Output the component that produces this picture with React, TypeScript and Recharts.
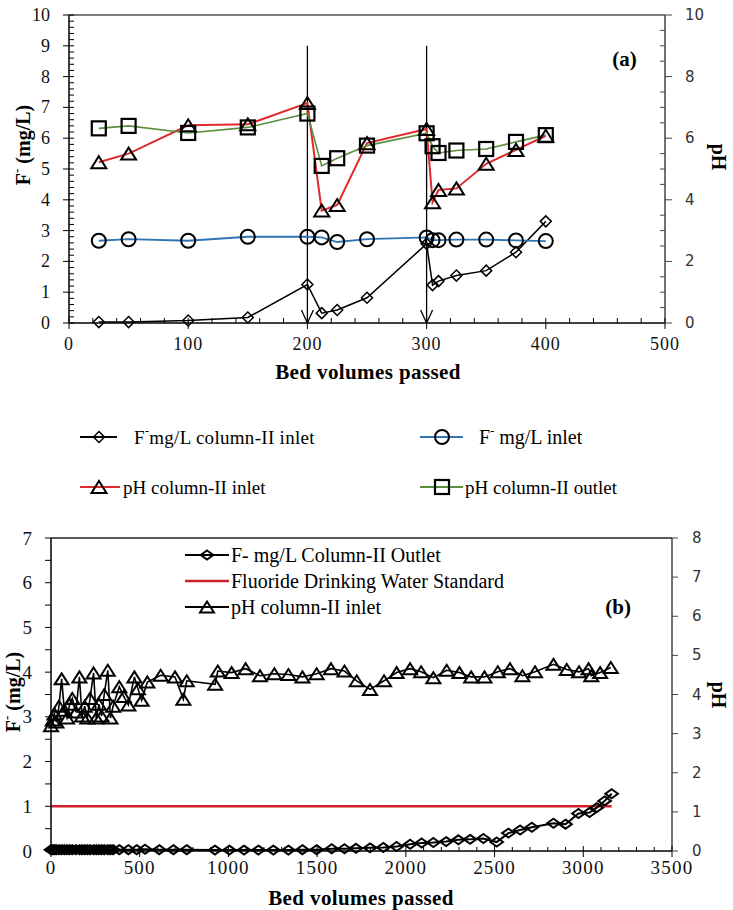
"use client"

import { ComposedChart, Line, XAxis, YAxis, ReferenceLine, ReferenceDot, Legend, Label } from "recharts"

const SERIF = "'Liberation Serif', 'Times New Roman', serif"
const SANS = "'DejaVu Sans', Verdana, sans-serif"

// ---------- panel (a): regeneration runs ----------
const bvA = [25, 50, 100, 150, 200, 212, 225, 250, 300, 305, 310, 325, 350, 375, 400]
const fColumnInletA = [0.03, 0.03, 0.08, 0.18, 1.25, 0.32, 0.42, 0.82, 2.57, 1.23, 1.36, 1.54, 1.7, 2.3, 3.3]
const fInletA = [2.67, 2.72, 2.67, 2.8, 2.8, 2.78, 2.63, 2.72, 2.78, 2.69, 2.69, 2.71, 2.71, 2.68, 2.66]
const phColumnInletA = [5.22, 5.5, 6.42, 6.45, 7.14, 3.65, 3.83, 5.84, 6.3, 3.92, 4.32, 4.37, 5.17, 5.62, 6.08]
const phColumnOutletA = [6.32, 6.4, 6.17, 6.35, 6.8, 5.1, 5.35, 5.76, 6.16, 5.74, 5.52, 5.6, 5.65, 5.88, 6.1]
const regenerationBV = [200, 300]

const xLabelsA = [0, 100, 200, 300, 400, 500]
const leftLabelsA = [0, 1, 2, 3, 4, 5, 6, 7, 8, 9, 10]
const rightLabelsA = [0, 2, 4, 6, 8, 10]

// ---------- panel (b): long run ----------
const outletBV = [0, 10, 20, 30, 45, 60, 75, 90, 105, 120, 140, 160, 175, 190, 205, 220, 240, 255, 270, 285, 300, 320, 335, 350, 385, 436, 483, 530, 610, 690, 765,
  924, 1005, 1088, 1169, 1253, 1338, 1417, 1497, 1582, 1654, 1719, 1798, 1873, 1948, 2024, 2089, 2155, 2227, 2296, 2362, 2437, 2512, 2578, 2644, 2710, 2832, 2900, 2973, 3035, 3076, 3120, 3160]
const outletF = [0.03, 0.03, 0.03, 0.03, 0.03, 0.03, 0.03, 0.03, 0.03, 0.03, 0.03, 0.03, 0.03, 0.03, 0.03, 0.03, 0.03, 0.03, 0.03, 0.03, 0.03, 0.03, 0.03, 0.03, 0.03, 0.03, 0.03, 0.04, 0.03, 0.03, 0.03,
  0.02, 0.02, 0.02, 0.02, 0.02, 0.02, 0.03, 0.03, 0.05, 0.05, 0.06, 0.07, 0.08, 0.1, 0.15, 0.18, 0.19, 0.21, 0.25, 0.26, 0.28, 0.2, 0.4, 0.47, 0.53, 0.62, 0.6, 0.84, 0.86, 0.97, 1.12, 1.28]

const inletBV = [0, 10, 20, 30, 45, 60, 75, 90, 105, 120, 140, 160, 175, 190, 205, 220, 240, 255, 270, 285, 300, 320, 335, 350, 385, 410, 436, 470, 490, 511, 543, 618, 699, 746, 765,
  925, 940, 1018, 1097, 1178, 1259, 1338, 1417, 1497, 1578, 1654, 1723, 1798, 1877, 1948, 2024, 2086, 2155, 2230, 2302, 2368, 2443, 2518, 2587, 2657, 2728, 2832, 2907, 2976, 3030, 3045, 3095, 3155]
const inletPH = [3.2, 3.35, 3.5, 3.3, 3.7, 4.4, 3.6, 3.4, 3.75, 3.9, 3.55, 4.45, 3.45, 3.7, 3.4, 3.9, 4.55, 3.4, 3.75, 3.45, 4.0, 4.62, 3.4, 3.7, 4.2, 3.95, 3.73, 4.45, 4.15, 3.85, 4.32, 4.49, 4.45, 3.88, 4.35,
  4.26, 4.6, 4.56, 4.66, 4.48, 4.53, 4.51, 4.45, 4.53, 4.66, 4.6, 4.35, 4.13, 4.35, 4.56, 4.66, 4.58, 4.43, 4.62, 4.56, 4.45, 4.45, 4.58, 4.66, 4.48, 4.58, 4.77, 4.64, 4.58, 4.66, 4.48, 4.56, 4.69]

const standardBV = [0, 3160]
const standardF = [1, 1]

const xLabelsB = [0, 500, 1000, 1500, 2000, 2500, 3000, 3500]
const leftLabelsB = [0, 1, 2, 3, 4, 5, 6, 7]
const rightLabelsB = [0, 1, 2, 3, 4, 5, 6, 7, 8]

const dataA = bvA.map((bv, i) => ({
  bv,
  fColumnInlet: fColumnInletA[i],
  fInlet: fInletA[i],
  phColumnInlet: phColumnInletA[i],
  phColumnOutlet: phColumnOutletA[i],
}))
const outletData = outletBV.map((bv, i) => ({ bv, f: outletF[i] }))
const inletData = inletBV.map((bv, i) => ({ bv, ph: inletPH[i] }))
const standardData = standardBV.map((bv, i) => ({ bv, f: standardF[i] }))

// tick positions (major + minor)
const steps = (max: number, step: number) =>
  Array.from({ length: Math.round(max / step) + 1 }, (_, i) => Math.round(i * step * 1000) / 1000)

// ---------- markers ----------
type DotProps = { cx?: number; cy?: number; index?: number }

const diamond = (rx: number, ry: number, w: number) => (p: DotProps) => {
  const { cx = 0, cy = 0 } = p
  return <path key={`d${p.index}`} d={`M${cx},${cy - ry}L${cx + rx},${cy}L${cx},${cy + ry}L${cx - rx},${cy}Z`} fill="none" stroke="#000" strokeWidth={w} />
}
const circle = (r: number, w: number) => (p: DotProps) => (
  <circle key={`c${p.index}`} cx={p.cx} cy={p.cy} r={r} fill="none" stroke="#000" strokeWidth={w} />
)
const triangle = (tw: number, th: number, w: number) => (p: DotProps) => {
  const { cx = 0, cy = 0 } = p
  return <polygon key={`t${p.index}`} points={`${cx},${cy - th / 2} ${cx + tw / 2},${cy + th / 2} ${cx - tw / 2},${cy + th / 2}`} fill="none" stroke="#000" strokeWidth={w} />
}
const square = (s: number, w: number) => (p: DotProps) => (
  <rect key={`s${p.index}`} x={(p.cx ?? 0) - s / 2} y={(p.cy ?? 0) - s / 2} width={s} height={s} fill="none" stroke="#000" strokeWidth={w} />
)

const diamondA = diamond(5.5, 5.5, 1.5)
const circleA = circle(7, 2)
const triangleA = triangle(15, 12, 2)
const squareA = square(14, 2.2)
const diamondB = diamond(6.3, 4.5, 2)
const triangleB = triangle(14, 11, 2)

// ---------- axis ticks ----------
type TickStyle = {
  side: "left" | "right" | "bottom"
  labels: number[]
  major: [number, number] // [inside, outside]
  minor: [number, number]
  gap: number
  font: string
  size: number
  spacing?: number
  color: string
  stroke: string
}

const makeTick = (t: TickStyle) => (p: any) => {
  const { x, y, payload, index } = p
  const v = payload.value as number
  const isMajor = t.labels.includes(v)
  const [inn, out] = isMajor ? t.major : t.minor
  const textProps = { fontFamily: t.font, fontSize: t.size, fill: t.color, letterSpacing: t.spacing ?? 0 }
  if (t.side === "bottom") {
    return (
      <g key={`k${index}`}>
        <line x1={x} x2={x} y1={y - inn} y2={y + out} stroke={t.stroke} strokeWidth={1} />
        {isMajor && (
          <text x={x} y={y + t.gap} textAnchor="middle" dominantBaseline="central" {...textProps}>
            {v}
          </text>
        )}
      </g>
    )
  }
  const dir = t.side === "left" ? -1 : 1
  return (
    <g key={`k${index}`}>
      <line x1={x - dir * inn} x2={x + dir * out} y1={y} y2={y} stroke={t.stroke} strokeWidth={1} />
      {isMajor && (
        <text x={x + dir * t.gap} y={y} textAnchor={t.side === "left" ? "end" : "start"} dominantBaseline="central" {...textProps}>
          {v}
        </text>
      )}
    </g>
  )
}

const tickLeftA = makeTick({ side: "left", labels: leftLabelsA, major: [5, 6], minor: [5, 0], gap: 19, font: SERIF, size: 18, color: "#111", stroke: "#000" })
const tickRightA = makeTick({ side: "right", labels: rightLabelsA, major: [0, 7], minor: [5, 0], gap: 20, font: SANS, size: 15, color: "#333", stroke: "#444" })
const tickBottomA = makeTick({ side: "bottom", labels: xLabelsA, major: [5, 6], minor: [5, 0], gap: 21, font: SERIF, size: 18, spacing: 1, color: "#111", stroke: "#000" })
const tickLeftB = makeTick({ side: "left", labels: leftLabelsB, major: [0, 6], minor: [0, 6], gap: 19, font: SERIF, size: 19, color: "#111", stroke: "#000" })
const tickRightB = makeTick({ side: "right", labels: rightLabelsB, major: [0, 6], minor: [0, 6], gap: 20, font: SANS, size: 15, color: "#333", stroke: "#444" })
const tickBottomB = makeTick({ side: "bottom", labels: xLabelsB, major: [5, 6], minor: [4, 0], gap: 16, font: SERIF, size: 19, spacing: 1.2, color: "#111", stroke: "#000" })

// vertical regeneration marker with an open arrow head
const ArrowLine = (p: any) => {
  const { x1, y1, x2, y2 } = p
  return (
    <g>
      <line x1={x1} y1={y1} x2={x2} y2={y2} stroke="#000" strokeWidth={1.3} />
      <polyline points={`${x2 - 6},${y2 - 13} ${x2},${y2} ${x2 + 6},${y2 - 13}`} fill="none" stroke="#000" strokeWidth={1.3} />
    </g>
  )
}

// ---------- titles ----------
const boldText = { fontFamily: SERIF, fontWeight: 700, fill: "#000" } as const

const fTitle = (x: number, y: number) => () => (
  <text transform={`translate(${x},${y}) rotate(-90)`} textAnchor="middle" dominantBaseline="central" fontSize={20} {...boldText}>
    F<tspan dy={-7} fontSize={13}>-</tspan>
    <tspan dy={7}> (mg/L)</tspan>
  </text>
)
const phTitle = (x: number, y: number) => () => (
  <text transform={`translate(${x},${y}) rotate(90)`} textAnchor="middle" dominantBaseline="central" fontSize={20} {...boldText}>
    pH
  </text>
)
const bvTitle = (x: number, y: number) => () => (
  <text x={x} y={y} textAnchor="middle" dominantBaseline="central" fontSize={21} letterSpacing={0.4} {...boldText}>
    Bed volumes passed
  </text>
)

// ---------- legends ----------
const legendText = { fontFamily: SERIF, fontSize: 19, fill: "#000" }

const LegendA = () => (
  <svg width={733} height={100} style={{ display: "block" }}>
    <g>
      <line x1={80} x2={117} y1={27} y2={27} stroke="#000" strokeWidth={1.8} />
      {diamondA({ cx: 99, cy: 27, index: 0 })}
      <text x={134} y={27} dominantBaseline="central" {...legendText} letterSpacing={0.3}>
        F<tspan dy={-6} fontSize={12}>-</tspan>
        <tspan dy={6}>mg/L column-II inlet</tspan>
      </text>
    </g>
    <g>
      <line x1={420} x2={463} y1={27} y2={27} stroke="#2e75b6" strokeWidth={2} />
      {circleA({ cx: 442, cy: 27, index: 1 })}
      <text x={479} y={27} dominantBaseline="central" {...legendText} fontSize={20}>
        F<tspan dy={-6} fontSize={12}>-</tspan>
        <tspan dy={6}> mg/L inlet</tspan>
      </text>
    </g>
    <g>
      <line x1={80} x2={120} y1={77} y2={77} stroke="#e02a2a" strokeWidth={2} />
      {triangleA({ cx: 99, cy: 77, index: 2 })}
      <text x={123} y={77} dominantBaseline="central" {...legendText}>
        pH column-II inlet
      </text>
    </g>
    <g>
      <line x1={420} x2={463} y1={77} y2={77} stroke="#5a8f3c" strokeWidth={2} />
      {squareA({ cx: 442, cy: 77, index: 3 })}
      <text x={465} y={77} dominantBaseline="central" {...legendText}>
        pH column-II outlet
      </text>
    </g>
  </svg>
)

const legendTextB = { ...legendText, fontSize: 20 }

const LegendB = () => (
  <svg width={733} height={100} style={{ display: "block" }}>
    <line x1={185} x2={229} y1={15} y2={15} stroke="#000" strokeWidth={2} />
    {diamondB({ cx: 207, cy: 15, index: 0 })}
    <text x={231} y={15} dominantBaseline="central" {...legendTextB}>
      F- mg/L Column-II Outlet
    </text>
    <line x1={185} x2={229} y1={41} y2={41} stroke="#d0202a" strokeWidth={2.5} />
    <text x={231} y={41} dominantBaseline="central" {...legendTextB}>
      Fluoride Drinking Water Standard
    </text>
    <line x1={185} x2={229} y1={67} y2={67} stroke="#000" strokeWidth={2} />
    {triangleB({ cx: 207, cy: 67, index: 1 })}
    <text x={231} y={67} dominantBaseline="central" {...legendTextB}>
      pH column-II inlet
    </text>
  </svg>
)

function PanelA() {
  return (
    <ComposedChart width={733} height={520} data={dataA} margin={{ top: 15, right: 0, bottom: 167, left: 0 }}>
      <XAxis dataKey="bv" type="number" domain={[0, 500]} ticks={steps(500, 20)} interval={0} tickSize={0} tickMargin={0} tickLine={false} tick={tickBottomA} axisLine={{ stroke: "#000", strokeWidth: 1.5 }} height={30}>
        <Label content={bvTitle(368, 372)} />
      </XAxis>
      <YAxis yAxisId="left" orientation="left" type="number" domain={[0, 10]} ticks={steps(10, 0.2)} interval={0} width={69} tickSize={0} tickMargin={0} tickLine={false} tick={tickLeftA} axisLine={{ stroke: "#000", strokeWidth: 1.5 }}>
        <Label content={fTitle(23, 145)} />
      </YAxis>
      <YAxis yAxisId="right" orientation="right" type="number" domain={[0, 10]} ticks={steps(10, 0.5)} interval={0} width={68} tickSize={0} tickMargin={0} tickLine={false} tick={tickRightA} axisLine={{ stroke: "#444", strokeWidth: 1.5 }}>
        <Label content={phTitle(719, 157)} />
      </YAxis>
      <ReferenceLine yAxisId="left" y={10} stroke="#555" strokeWidth={1.3} />
      {regenerationBV.map((bv) => (
        <ReferenceLine key={bv} yAxisId="left" segment={[{ x: bv, y: 9 }, { x: bv, y: 0 }]} shape={ArrowLine} />
      ))}
      <Line yAxisId="left" dataKey="fColumnInlet" name="F- mg/L column-II inlet" type="linear" stroke="#000" strokeWidth={1.5} dot={diamondA} activeDot={false} isAnimationActive={false} />
      <Line yAxisId="left" dataKey="fInlet" name="F- mg/L inlet" type="linear" stroke="#2e75b6" strokeWidth={1.8} dot={circleA} activeDot={false} isAnimationActive={false} />
      <Line yAxisId="right" dataKey="phColumnInlet" name="pH column-II inlet" type="linear" stroke="#e02a2a" strokeWidth={2} dot={triangleA} activeDot={false} isAnimationActive={false} />
      <Line yAxisId="right" dataKey="phColumnOutlet" name="pH column-II outlet" type="linear" stroke="#5a8f3c" strokeWidth={1.6} dot={squareA} activeDot={false} isAnimationActive={false} />
      <ReferenceDot yAxisId="left" x={466} y={8.6} r={0} fill="none" stroke="none" label={{ value: "(a)", position: "center", fontFamily: SERIF, fontWeight: 700, fontSize: 21, fill: "#000" }} />
      <Legend layout="horizontal" verticalAlign="middle" align="center" wrapperStyle={{ top: 410, left: 0, width: 733, height: 100 }} content={() => <LegendA />} />
    </ComposedChart>
  )
}

function PanelB() {
  return (
    <ComposedChart width={733} height={390} margin={{ top: 18, right: 0, bottom: 29, left: 0 }}>
      <XAxis dataKey="bv" type="number" domain={[0, 3500]} ticks={steps(3500, 100)} interval={0} tickSize={0} tickMargin={0} tickLine={false} tick={tickBottomB} axisLine={{ stroke: "#000", strokeWidth: 1.5 }} height={30}>
        <Label content={bvTitle(361, 378)} />
      </XAxis>
      <YAxis yAxisId="left" orientation="left" type="number" domain={[0, 7]} ticks={steps(7, 0.5)} interval={0} width={51} tickSize={0} tickMargin={0} tickLine={false} tick={tickLeftB} axisLine={{ stroke: "#000", strokeWidth: 1.5 }}>
        <Label content={fTitle(13, 172)} />
      </YAxis>
      <YAxis yAxisId="right" orientation="right" type="number" domain={[0, 8]} ticks={steps(8, 1)} interval={0} width={61} tickSize={0} tickMargin={0} tickLine={false} tick={tickRightB} axisLine={{ stroke: "#444", strokeWidth: 1.5 }}>
        <Label content={phTitle(719, 175)} />
      </YAxis>
      <ReferenceLine yAxisId="left" y={7} stroke="#222" strokeWidth={1.5} />
      <Line yAxisId="left" data={standardData} dataKey="f" name="Fluoride Drinking Water Standard" type="linear" stroke="#d0202a" strokeWidth={2.5} dot={false} activeDot={false} isAnimationActive={false} />
      <Line yAxisId="left" data={outletData} dataKey="f" name="F- mg/L Column-II Outlet" type="linear" stroke="#000" strokeWidth={2} dot={diamondB} activeDot={false} isAnimationActive={false} />
      <Line yAxisId="right" data={inletData} dataKey="ph" name="pH column-II inlet" type="linear" stroke="#000" strokeWidth={1.6} dot={triangleB} activeDot={false} isAnimationActive={false} />
      <ReferenceDot yAxisId="left" x={3196} y={5.46} r={0} fill="none" stroke="none" label={{ value: "(b)", position: "center", fontFamily: SERIF, fontWeight: 700, fontSize: 21, fill: "#000" }} />
      <Legend layout="horizontal" verticalAlign="middle" align="center" wrapperStyle={{ top: 20, left: 0, width: 733, height: 100 }} content={() => <LegendB />} />
    </ComposedChart>
  )
}

export default function App() {
  return (
    <div style={{ position: "absolute", left: 0, top: 0, width: 733, height: 910, background: "#fff" }}>
      <div style={{ position: "absolute", left: 0, top: 0 }}>
        <PanelA />
      </div>
      <div style={{ position: "absolute", left: 0, top: 520 }}>
        <PanelB />
      </div>
    </div>
  )
}
